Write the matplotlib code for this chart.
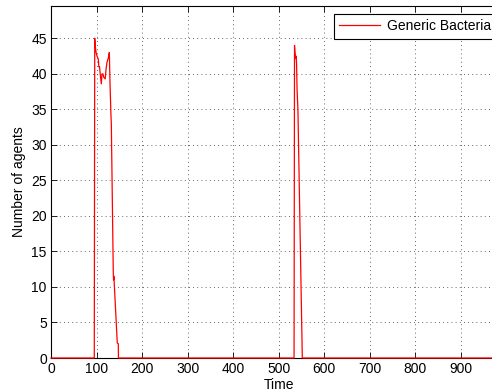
import matplotlib
matplotlib.use("Agg")
import matplotlib.pyplot as plt

time = [0, 95, 96, 97, 99, 101, 103, 104, 105, 106.5, 108, 110.4, 112, 114, 116, 119,
        120.7, 122.5, 124.4, 125.8, 128, 129.5, 131.7, 132.4, 136.7, 137.3, 138,
        145.5, 147.7, 148, 533.5, 534.5, 535.5, 537, 538, 539, 540, 542, 551.6, 1000]
agents = [0, 0, 45, 44, 43, 42.5, 42.2, 42, 41, 41, 40, 38.6, 40, 40, 39.5, 39.3,
          40.6, 41.5, 42, 42.2, 43, 38.7, 34, 33, 12, 11, 11.5,
          2.1, 2, 0, 0, 44, 43, 42.2, 42.5, 41.5, 38, 34.9, 0, 0]

xticks = list(range(0, 1000, 100))
yticks = list(range(0, 50, 5))

plt.rcParams['font.family'] = ['Liberation Sans', 'DejaVu Sans']
fig = plt.figure(figsize=(4.92, 3.91), dpi=100)
W, H = 492, 391
x0, ytop, ybot = 51, 5.7, 358
scale = 0.4556
ax = fig.add_axes([x0 / W, (H - ybot) / H, 1000 * scale / W, (ybot - ytop) / H])

ax.plot(time, agents, color='red', lw=0.9, label='Generic Bacteria', clip_on=False, zorder=5)
ax.set_xlim(0, 1000)
ax.set_ylim(0, 49.6)
ax.set_xticks(xticks)
ax.set_yticks(yticks)
ax.tick_params(direction='in', top=True, right=True, labelsize=10, length=4, width=0.6, pad=3)
ax.grid(True, linestyle=(0, (1, 4)), color='black', lw=0.6, alpha=0.8)
for s in ax.spines.values():
    s.set_linewidth(0.8)
ax.set_xlabel('Time', fontsize=10, labelpad=1)
ax.set_ylabel('Number of agents', fontsize=10, labelpad=4)

leg = ax.legend(loc='upper left', bbox_to_anchor=(334 / W, 1 - 14 / H),
                bbox_transform=fig.transFigure, fontsize=10, frameon=True,
                fancybox=False, framealpha=1, edgecolor='black', borderaxespad=0,
                handlelength=2.9, handletextpad=0.55, borderpad=0.38)
leg.get_frame().set_linewidth(0.8)

fig.savefig('out.png', dpi=100)
